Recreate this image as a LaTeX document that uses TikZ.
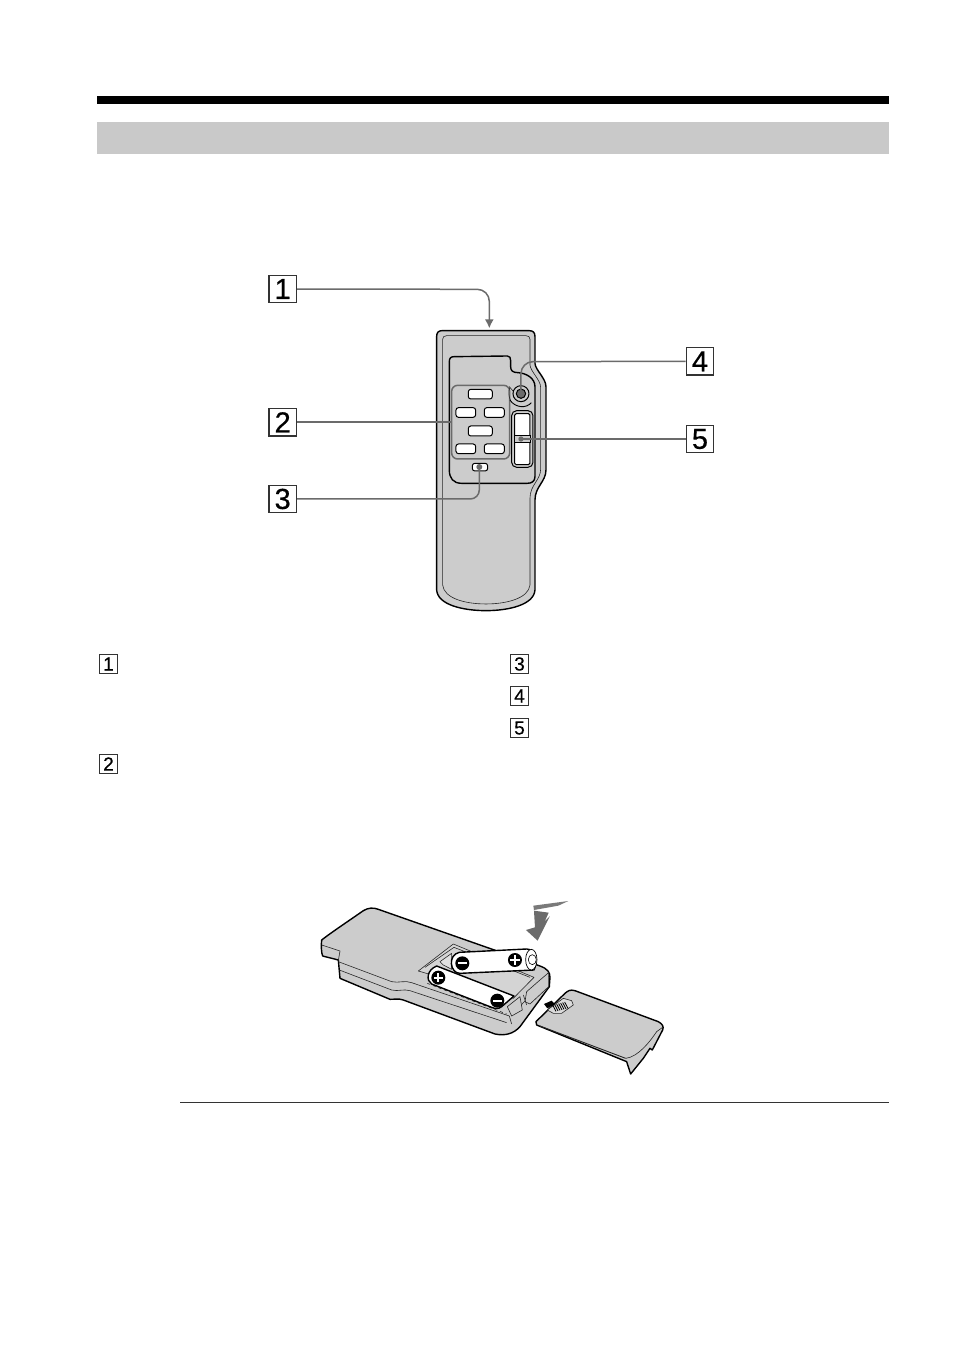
\documentclass[tikz,border=0pt]{standalone}
\usepackage{fontspec}
\setmainfont{Liberation Sans}
\newfontfamily\digitfont[FakeBold=0.5]{Liberation Sans}
\usetikzlibrary{arrows.meta}
\definecolor{bandgray}{gray}{0.79}
\definecolor{bodygray}{gray}{0.80}
\definecolor{leadgray}{gray}{0.42}
\tikzset{
  bigbox/.style={draw=black!80,line width=1.3pt,fill=white,minimum size=27.5pt,inner sep=0pt,font=\digitfont\fontsize{29}{29}\selectfont},
  smallbox/.style={draw=black!80,line width=1pt,fill=white,minimum size=18.5pt,inner sep=0pt,font=\digitfont\fontsize{19}{19}\selectfont},
  lead/.style={draw=leadgray,line width=1.5pt},
  outline/.style={draw=black,line width=1.4pt,line join=round},
  thin line/.style={draw=black!85,line width=0.6pt,line join=round},
  btn/.style={draw=black,line width=1pt,fill=white,rounded corners=2.5pt},
}
\newcommand{\polecirc}[3]{% x y sign
  \fill[black] (#1,#2) circle (21);
  \fill[white] (#1-14,#2-3) rectangle (#1+14,#2+3);
  \ifnum#3=1 \fill[white] (#1-3,#2-14) rectangle (#1+3,#2+14);\fi
}
\begin{document}
\begin{tikzpicture}[x=1pt,y=-1pt]
\useasboundingbox (0,0) rectangle (954,1352);
\fill[white] (0,0) rectangle (954,1352);
% header
\fill[black] (97,96) rectangle (889,104);
\fill[bandgray] (97,122) rectangle (889,154);
\draw[black!80,line width=0.7pt] (180,1102) -- (889,1102);
% remote
\begin{scope}[shift={(260,270)},x=0.3333pt,y=-0.3333pt]
  \path[outline,fill=bodygray] (546,182) -- (808,182) .. controls (820,182) and (825,188) .. (825,200)
    -- (825,280) .. controls (826,300) and (858,325) .. (858,350)
    -- (858,600) .. controls (858,635) and (825,650) .. (825,690)
    -- (825,960) .. controls (822,1005) and (745,1022) .. (678,1022)
    .. controls (610,1022) and (533,1005) .. (530,960)
    -- (530,200) .. controls (530,188) and (535,182) .. (546,182) -- cycle;
  \path[thin line] (560,197) -- (798,197) .. controls (806,197) and (810,201) .. (810,208)
    -- (810,285) .. controls (812,305) and (842,330) .. (842,352)
    -- (842,598) .. controls (842,630) and (810,645) .. (810,685)
    -- (810,945) .. controls (806,985) and (740,1002) .. (678,1002)
    .. controls (615,1002) and (552,985) .. (548,945)
    -- (548,208) .. controls (548,201) and (552,197) .. (560,197) -- cycle;
  % panel
  \path[outline,fill=bodygray] (582,260) -- (742,258) .. controls (750,258) and (752,264) .. (752,272)
    -- (752,290) .. controls (752,302) and (758,308) .. (775,308)
    .. controls (800,310) and (825,325) .. (825,350)
    -- (825,620) .. controls (825,634) and (815,640) .. (802,640)
    -- (605,640) .. controls (580,640) and (568,625) .. (568,600)
    -- (568,275) .. controls (568,265) and (572,260) .. (582,260) -- cycle;
  % group bracket
  \draw[draw=leadgray,line width=1.5pt,rounded corners=6pt,fill=bodygray] (575,346) rectangle (749,567);
  % buttons
  \draw[btn] (625,358) rectangle (697,387);
  \draw[btn] (588,413) rectangle (647,442);
  \draw[btn] (673,413) rectangle (733,442);
  \draw[btn] (625,468) rectangle (697,498);
  \draw[btn] (588,522) rectangle (647,551);
  \draw[btn] (673,522) rectangle (733,551);
  \draw[btn] (637,580) rectangle (683,603);
  \fill[leadgray] (658,591) circle (9);
  % stick
  \draw[black,line width=1pt,fill=bodygray] (783,371) circle (24);
  \draw[black,line width=1pt,fill=leadgray] (783,371) circle (14);
  \path[thin line] (748,350) -- (760,364);
  \path[thin line] (750,352) .. controls (744,365) and (746,380) .. (752,392);
  \draw[black,line width=0.9pt] (750,390) .. controls (765,414) and (800,416) .. (814,398);
  % slider
  \draw[black,line width=1pt,fill=bodygray,rounded corners=5pt] (755,422) rectangle (819,592);
  \draw[black,line width=1pt,fill=white,rounded corners=1.5pt] (764,431) rectangle (810,584);
  \draw[black,line width=0.9pt,fill=bodygray] (764,496) rectangle (810,518);
  % named ends of the connectors
  \coordinate (e1) at (688,175);
  \coordinate (c1) at (688,58);
  \coordinate (e2) at (575,457);
  \coordinate (e3) at (658,598);
  \coordinate (c3) at (658,687);
  \coordinate (e4) at (783,371);
  \coordinate (c4) at (783,275);
  \coordinate (e5) at (783,507);
  \node[bigbox] (n1) at (68,57) {1};
  \node[bigbox] (n2) at (68,457) {2};
  \node[bigbox] (n3) at (68,687) {3};
  \node[bigbox] (n4) at (1320,274) {4};
  \node[bigbox] (n5) at (1320,507) {5};
  \draw[lead,rounded corners=12pt,-{Latex[length=9pt,width=9pt]}] (n1.east) -- (c1) -- (e1);
  \draw[lead,line width=1.9pt] (n2.east) -- (e2);
  \draw[lead,rounded corners=9pt] (n3.east) -- (c3) -- (e3);
  \draw[lead,rounded corners=12pt] (n4.west) -- (c4) -- (e4);
  \draw[lead] (n5.west) -- (e5);
  \fill[leadgray] (783,507) circle (8);
\end{scope}
% list markers
\node[smallbox] (m1) at (108.5,664) {1};
\node[smallbox] (m2) at (108.5,764) {2};
\node[smallbox] (m3) at (519.5,664) {3};
\node[smallbox] (m4) at (519.5,696) {4};
\node[smallbox] (m5) at (519.5,728) {5};
% battery insertion
\begin{scope}[shift={(310,890)},x=0.3333pt,y=-0.3333pt]
  % arrow
  \fill[leadgray!90] (670,47) -- (775,33) -- (745,47) -- (672,60) -- cycle;
  \fill[leadgray] (672,62) -- (716,68) -- (704,95) -- (720,78) -- (683,152) -- (648,120) -- (675,112) -- cycle;
  % body
  \path[outline,fill=bodygray] (35,150) .. controls (60,130) and (120,90) .. (160,62)
    .. controls (175,53) and (190,52) .. (205,58)
    -- (690,228) .. controls (712,236) and (720,246) .. (720,262)
    -- (718,290) -- (630,410) .. controls (610,432) and (585,438) .. (555,432)
    -- (280,330) .. controls (265,325) and (255,328) .. (240,328)
    -- (90,265) -- (85,210) -- (38,198) .. controls (34,190) and (33,165) .. (35,150) -- cycle;
  \path[thin line] (35,165) -- (90,183) -- (85,212);
  \path[thin line] (85,215) -- (245,275) .. controls (265,280) and (285,270) .. (305,278) -- (598,378) -- (605,402);
  \path[thin line] (88,240) -- (245,300) .. controls (265,305) and (280,296) .. (300,302) -- (590,398);
  \path[thin line] (605,375) -- (716,258);
  % compartment
  \path[thin line,fill=bodygray!85] (325,243) -- (430,162) -- (672,262) -- (610,325) -- cycle;
  \path[thin line] (345,232) -- (432,172) -- (660,262);
  \path[thin line,fill=bodygray!60] (390,215) -- (425,190) -- (425,238) -- (400,225) -- cycle;
  \path[thin line,dashed] (352,280) -- (590,372);
  % front terminal block
  \path[thin line,fill=bodygray] (592,350) -- (630,320) -- (637,360) -- (605,378) -- cycle;
  \path[thin line,fill=bodygray] (650,305) -- (690,270) -- (716,248) -- (716,290) -- (660,342) -- (645,335) -- cycle;
  \path[thin line] (640,315) -- (650,345);
  % lower battery
  \path[outline,fill=white] (380,228) -- (612,318) -- (575,350) .. controls (565,358) and (555,356) .. (545,352)
    -- (365,282) .. controls (348,272) and (350,240) .. (380,228) -- cycle;
  \polecirc{385}{263}{1}
  \polecirc{562}{332}{0}
  % upper battery
  \path[outline,fill=white] (448,187) -- (650,177) .. controls (675,177) and (685,215) .. (672,240)
    -- (450,250) .. controls (420,250) and (412,195) .. (448,187) -- cycle;
  \draw[black,line width=0.7pt,fill=white] (664,209) ellipse (17 and 31);
  \draw[black,line width=0.6pt,fill=white] (667,209) ellipse (12 and 15);
  \polecirc{457}{220}{0}
  \polecirc{615}{210}{1}
  % cover
  \path[outline,fill=bodygray] (678,395) -- (765,310) .. controls (775,302) and (780,298) .. (795,302)
    -- (1045,395) .. controls (1058,402) and (1062,410) .. (1058,420)
    -- (1027,480) -- (1020,475) -- (1000,505) -- (962,552) -- (950,515) -- (680,405) -- cycle;
  \path[thin line,line width=0.9pt] (690,408) -- (947,505);
  \path[thin line] (948,505) .. controls (985,500) and (1020,455) .. (1040,425) -- (1058,412);
  \path[thin line,fill=bodygray!70] (712,360) -- (760,325) -- (785,332) -- (790,345) -- (755,370) -- (730,370) -- cycle;
  % cover tab
  \foreach \i in {0,...,6}
    \draw[black,line width=0.8pt] (728+\i*6,345-\i*1.5) -- (738+\i*6,364-\i*1.5);
  \fill[black] (702,342) -- (725,332) -- (735,342) -- (712,355) -- cycle;
\end{scope}
\end{tikzpicture}
\end{document}
